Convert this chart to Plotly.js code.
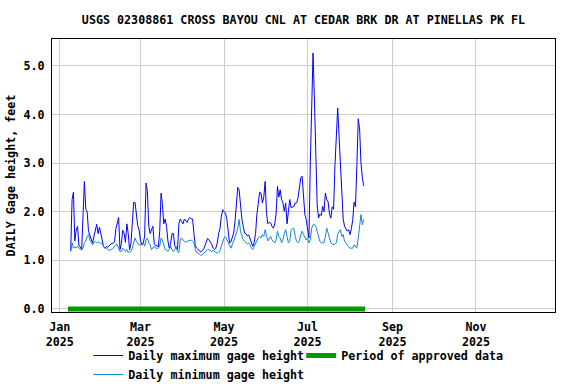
<!DOCTYPE html>
<html>
<head>
<meta charset="utf-8">
<script src="https://cdn.plot.ly/plotly-3.0.1.min.js"></script>
<style>html,body{margin:0;padding:0;background:#fff;}#chart{width:576px;height:384px;}</style>
</head>
<body>
<div id="chart"></div>
<script>
// ---- Data ----
const startDate = '2025-01-09';   // first daily value
const maxGage = [
  1.20, 2.25, 2.40, 1.40, 1.62, 1.70, 1.30, 1.28, 1.22, 1.90,
  2.62, 2.05, 2.00, 1.60, 1.50, 1.40, 1.35, 1.50, 1.60, 1.74,
  1.55, 1.68, 1.55, 1.40, 1.28, 1.25, 1.28, 1.27, 1.30, 1.32,
  1.35, 1.35, 1.38, 1.65, 1.80, 1.88, 1.22, 1.35, 1.62, 1.55,
  1.37, 1.75, 1.55, 1.22, 1.35, 1.80, 2.19, 2.19, 1.95, 1.70,
  1.62, 1.40, 1.32, 1.35, 1.50, 2.59, 2.42, 1.70, 1.55, 1.62,
  1.70, 1.35, 1.30, 1.30, 1.28, 1.60, 2.38, 2.15, 1.75, 1.85,
  1.70, 1.40, 1.25, 1.35, 1.55, 1.55, 1.30, 1.25, 1.22, 1.75,
  1.85, 1.80, 1.75, 1.85, 1.80, 1.78, 1.85, 1.88, 1.85, 1.85,
  1.55, 1.30, 1.25, 1.22, 1.20, 1.17, 1.20, 1.22, 1.30, 1.38,
  1.45, 1.42, 1.38, 1.33, 1.25, 1.22, 1.25, 1.35, 1.55, 1.65,
  1.90, 2.04, 2.00, 1.97, 1.85, 1.60, 1.36, 1.38, 1.50, 1.56,
  1.80, 2.20, 2.50, 2.45, 2.05, 1.85, 1.70, 1.56, 1.55, 1.50,
  1.52, 1.45, 1.36, 1.29, 1.36, 1.55, 1.95, 2.20, 2.40, 2.38,
  2.18, 2.30, 2.62, 1.97, 1.75, 1.78, 1.77, 1.70, 1.66, 1.75,
  1.95, 2.52, 2.30, 2.45, 2.25, 2.18, 2.01, 2.18, 1.75, 2.01,
  2.25, 2.08, 2.10, 2.11, 2.18, 2.18, 2.28, 2.45, 2.69, 2.73,
  2.20, 1.95, 1.84, 1.66, 1.46, 3.00, 4.51, 5.26, 4.30, 2.90,
  2.15, 1.87, 1.95, 1.92, 2.11, 2.00, 2.38, 2.25, 2.20, 1.95,
  1.87, 2.10, 2.05, 2.95, 3.70, 4.13, 3.55, 2.86, 2.35, 1.85,
  1.70, 1.63, 1.60, 1.63, 1.53, 1.65, 1.84, 2.20, 2.10, 2.95,
  3.91, 3.70, 3.00, 2.70, 2.53
];
const minGage = [
  1.18, 1.36, 1.25, 1.28, 1.25, 1.29, 1.25, 1.22, 1.22, 1.25,
  1.36, 1.39, 1.49, 1.53, 1.42, 1.36, 1.32, 1.36, 1.39, 1.36,
  1.38, 1.36, 1.36, 1.34, 1.29, 1.25, 1.25, 1.23, 1.20, 1.22,
  1.22, 1.25, 1.29, 1.32, 1.32, 1.25, 1.18, 1.18, 1.25, 1.22,
  1.18, 1.22, 1.16, 1.18, 1.18, 1.25, 1.36, 1.46, 1.39, 1.36,
  1.32, 1.32, 1.32, 1.36, 1.29, 1.42, 1.46, 1.36, 1.32, 1.22,
  1.25, 1.29, 1.25, 1.25, 1.25, 1.29, 1.46, 1.42, 1.32, 1.22,
  1.22, 1.18, 1.22, 1.29, 1.22, 1.18, 1.22, 1.29, 1.18, 1.15,
  1.42, 1.46, 1.42, 1.39, 1.37, 1.39, 1.40, 1.42, 1.42, 1.39,
  1.36, 1.22, 1.16, 1.15, 1.12, 1.10, 1.12, 1.15, 1.16, 1.20,
  1.22, 1.22, 1.20, 1.18, 1.20, 1.18, 1.16, 1.15, 1.16, 1.20,
  1.29, 1.40, 1.46, 1.49, 1.42, 1.36, 1.32, 1.25, 1.32, 1.39,
  1.45, 1.56, 1.66, 1.84, 1.60, 1.50, 1.42, 1.39, 1.36, 1.34,
  1.36, 1.32, 1.25, 1.22, 1.29, 1.36, 1.42, 1.46, 1.49, 1.46,
  1.53, 1.49, 1.63, 1.49, 1.40, 1.44, 1.49, 1.42, 1.39, 1.36,
  1.42, 1.60, 1.49, 1.46, 1.36, 1.42, 1.55, 1.63, 1.49, 1.36,
  1.39, 1.63, 1.65, 1.66, 1.49, 1.39, 1.36, 1.40, 1.53, 1.60,
  1.53, 1.46, 1.42, 1.46, 1.36, 1.42, 1.66, 1.73, 1.74, 1.70,
  1.60, 1.49, 1.39, 1.36, 1.36, 1.36, 1.50, 1.66, 1.56, 1.46,
  1.36, 1.33, 1.33, 1.33, 1.36, 1.53, 1.60, 1.63, 1.49, 1.53,
  1.39, 1.36, 1.32, 1.29, 1.25, 1.25, 1.25, 1.32, 1.29, 1.25,
  1.46, 1.77, 1.94, 1.73, 1.84
];
const approvedPeriod = ['2025-01-07', '2025-08-12'];
const approvedLevel = [0, 0];
const titleText = 'USGS 02308861 CROSS BAYOU CNL AT CEDAR BRK DR AT PINELLAS PK FL';
const yTitle = 'DAILY Gage height, feet';
const seriesNames = ['Daily maximum gage height', 'Period of approved data', 'Daily minimum gage height'];

// ---- Build daily dates ----
function dailyDates(start, n) {
  const out = [];
  const t0 = Date.parse(start + 'T00:00:00Z');
  for (let i = 0; i < n; i++) {
    out.push(new Date(t0 + i * 86400000).toISOString().slice(0, 10));
  }
  return out;
}
const dates = dailyDates(startDate, maxGage.length);

const FONT = {family: '"DejaVu Sans Mono", "Liberation Mono", monospace', size: 11.7, color: '#000', weight: 'bold'};

const traces = [
  {x: dates, y: maxGage, type: 'scatter', mode: 'lines', name: seriesNames[0],
   line: {color: '#0000ff', width: 1}},
  {x: approvedPeriod, y: approvedLevel, type: 'scatter', mode: 'lines', name: seriesNames[1],
   line: {color: '#009900', width: 5}},
  {x: dates, y: minGage, type: 'scatter', mode: 'lines', name: seriesNames[2],
   line: {color: '#1188d4', width: 1}}
];

const layout = {
  width: 576, height: 384,
  margin: {l: 52, r: 21, t: 39, b: 72, pad: 0, autoexpand: false},
  paper_bgcolor: '#fff', plot_bgcolor: '#fff',
  font: FONT,
  title: {text: titleText, font: FONT, x: 0.5, xref: 'paper', xanchor: 'center',
          y: 1 - 20 / 384, yref: 'container', yanchor: 'middle'},
  xaxis: {
    type: 'date', range: ['2024-12-26 08:00', '2025-12-28 17:00'],
    tick0: '2025-01-01', dtick: 'M2', tickformat: '%b<br>%Y',
    showgrid: true, gridcolor: '#cccccc', gridwidth: 1,
    showline: true, mirror: true, linecolor: '#000', linewidth: 1,
    ticks: '', zeroline: false, tickfont: FONT, fixedrange: true, automargin: false,
    ticklabelstandoff: 4
  },
  yaxis: {
    range: [-0.062, 5.55], tick0: 0, dtick: 1, tickformat: '.1f',
    showgrid: true, gridcolor: '#cccccc', gridwidth: 1,
    showline: true, mirror: true, linecolor: '#000', linewidth: 1,
    ticks: '', zeroline: false, tickfont: FONT, ticklabelstandoff: 4, automargin: false,
    title: {text: yTitle, font: FONT, standoff: 5}
  },
  showlegend: true,
  legend: {
    orientation: 'h', x: 0.072, xanchor: 'left', y: 1 - 341 / 384, yref: 'container', yanchor: 'top',
    font: FONT, entrywidth: 168, entrywidthmode: 'pixels', traceorder: 'normal',
    bgcolor: 'rgba(0,0,0,0)', borderwidth: 0, itemwidth: 30, tracegroupgap: 0
  }
};

Plotly.newPlot('chart', traces, layout, {displayModeBar: false, staticPlot: true});
</script>
</body>
</html>
